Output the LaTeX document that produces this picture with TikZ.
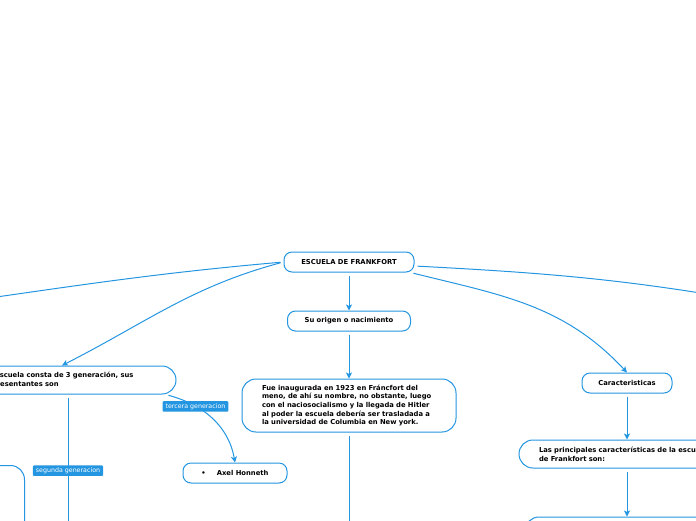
\documentclass[tikz,border=0pt]{standalone}
\usepackage{fontspec}
\setmainfont{DejaVu Sans}
\usetikzlibrary{positioning,arrows.meta}
\definecolor{mapblue}{RGB}{36,150,225}

\begin{document}
\begin{tikzpicture}[
            x=1pt, y=1pt,
            >={Stealth[length=6pt,width=6pt,inset=1.5pt]},
            topic/.style={rectangle, draw=mapblue, line width=1pt, rounded corners=8pt, fill=white,
                          font=\fontsize{6.8}{8.7}\selectfont\bfseries, minimum height=20pt, inner sep=2pt},
            para/.style={topic, rounded corners=14pt, align=left, inner xsep=20pt, inner ysep=4pt},
            tag/.style={rectangle, fill=mapblue, text=white, rounded corners=1pt,
                        font=\fontsize{6.3}{7}\selectfont, inner xsep=3pt, inner ysep=2.2pt},
            link/.style={draw=mapblue, line width=1pt, ->, shorten <=3pt}
        ]
            \useasboundingbox (0,0) rectangle (696,-520);
            \clip (0,0) rectangle (696,-520);

            % centre and first branch
            \node[topic, minimum width=130pt] (root) at (349,-262) {ESCUELA DE FRANKFORT};
            \node[topic, minimum width=123pt, below=38pt of root] (origen) {Su origen o nacimiento};
            \node[para, text width=174pt, minimum height=53pt, below=47pt of origen] (fue)
                {Fue inaugurada en 1923 en Fráncfort del\\meno, de ahí su nombre, no obstante, luego\\con el naciosocialismo y la llegada de Hitler\\al poder la escuela debería ser trasladada a\\la universidad de Columbia en New york.};

            % right branch
            \node[topic, minimum width=90pt] (caract) at (627,-383) {Caracteristicas};
            \node[para, text width=176pt, minimum height=28pt, below=46pt of caract] (princip)
                {Las principales características de la escuela\\de Frankfort son:};
            \node[para, minimum width=204pt, minimum height=60pt, below=48pt of princip] (rasgos) {};

            % left branch
            \node[para, text width=172pt, minimum height=28pt] (gen) at (70,-380)
                {La escuela consta de 3 generación, sus\\representantes son};
            \node[topic, minimum width=104pt] (axel) at (235,-473) {\textbullet\hspace{11pt}Axel Honneth};
            \node[para, minimum width=210pt, minimum height=80pt, anchor=north east] (otro) at (25,-465) {};

            \coordinate (offL) at (-60,-305);
            \coordinate (offR) at (760,-303);
            \coordinate (offB) at (349,-560);
            \coordinate (offG) at (68,-560);

            \draw[link] (root) -- (origen);
            \draw[link] (origen) -- (fue);
            \draw[link] (fue) -- (offB);
            \draw[link] (root.west) to[out=185, in=8] (offL);
            \draw[link] ([yshift=-4pt]root.east) to[out=-3, in=170] (offR);
            \draw[link] (root.west) to[out=195, in=27] ([xshift=-8pt]gen.north);
            \draw[link] ([xshift=-4pt]root.south east) to[out=-14, in=133] (caract.north);
            \draw[link] (caract) -- (princip);
            \draw[link] (princip) -- (rasgos);
            \draw[link] ([xshift=-2pt]gen.south) -- node[tag, pos=0.46] {segunda generacion} (offG);
            \draw[link] ([xshift=-11pt]gen.south east) to[out=-15, in=100]
                node[tag, pos=0.3] {tercera generacion} (axel.north);
        \end{tikzpicture}
\end{document}
